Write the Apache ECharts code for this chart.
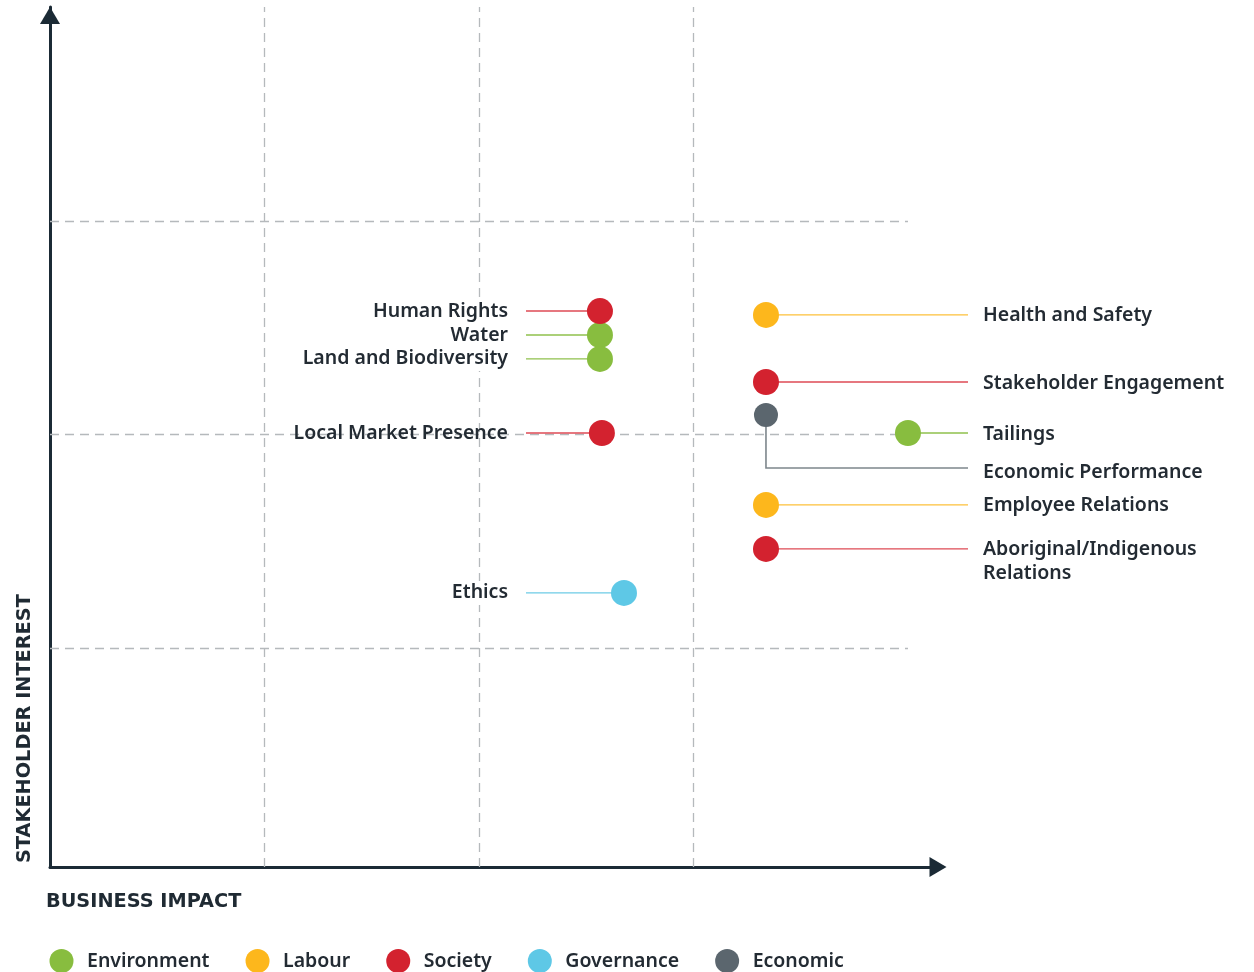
<!DOCTYPE html>
<html><head><meta charset="utf-8">
<script src="https://cdn.jsdelivr.net/npm/echarts@6/dist/echarts.min.js"></script>
<style>html,body{margin:0;padding:0;background:#fff}#c{width:1254px;height:972px}</style>
</head><body><div id="c"></div>
<script>
// ---------- data ----------
const categories = ['Environment', 'Labour', 'Society', 'Governance', 'Economic'];
const topics = ['Human Rights', 'Water', 'Land and Biodiversity', 'Local Market Presence', 'Ethics',
  'Health and Safety', 'Stakeholder Engagement', 'Economic Performance', 'Tailings',
  'Employee Relations', 'Aboriginal/Indigenous\nRelations'];
const topicCategory = ['Society', 'Environment', 'Environment', 'Society', 'Governance',
  'Labour', 'Society', 'Economic', 'Environment', 'Labour', 'Society'];
const businessImpact = [2.564, 2.564, 2.564, 2.573, 2.676, 3.338, 3.338, 3.338, 4.0, 3.338, 3.338];
const stakeholderInterest = [2.578, 2.466, 2.354, 2.007, 1.258, 2.560, 2.246, 2.091, 2.007, 1.670, 1.464];
const gridTicks = [1, 2, 3];
const gridExtent = 4;

// ---------- styles / layout ----------
const dotColors = ['#88bd3f', '#fdb71c', '#d3222f', '#5ec8e6', '#5b666e'];
const leaderColors = ['#8fc04c', '#fdc03a', '#de4a55', '#6ccbe6', '#7d868c'];
const textColor = '#232b33';
const axisColor = '#1b2a35';
const X_MIN = 0, X_MAX = 4.14, Y_MIN = -0.026, Y_MAX = 4.0023;
const LEFT_LEADER_PX = 526, LEFT_LABEL_PX = 508, RIGHT_LEADER_PX = 968, RIGHT_LABEL_PX = 983;
const elbowInterest = { 'Economic Performance': 1.843 };
const noBackground = { 'Local Market Presence': true };
const labelFont = { fontFamily: 'Noto Sans', fontSize: 19.5, fontWeight: 600 };

const measureCtx = document.createElement('canvas').getContext('2d');
function measure(s) {
  measureCtx.font = labelFont.fontWeight + ' ' + labelFont.fontSize + 'px "' + labelFont.fontFamily + '"';
  return measureCtx.measureText(s).width;
}

function renderLeader(params, api) {
  const i = api.value(2);
  const p = api.coord([api.value(0), api.value(1)]);
  const cat = categories.indexOf(topicCategory[i]);
  const color = leaderColors[cat];
  const name = topics[i];
  const children = [];
  const textStyleBase = Object.assign({ fill: textColor, lineHeight: 24 }, labelFont);
  if (businessImpact[i] < 3) {
    children.push({ type: 'line', shape: { x1: LEFT_LEADER_PX, y1: p[1], x2: p[0], y2: p[1] },
      style: { stroke: color, lineWidth: 1.4 } });
    if (!noBackground[name]) {
      const w = measure(name);
      children.push({ type: 'rect', shape: { x: LEFT_LABEL_PX - w - 2, y: p[1] - 12, width: w + 4, height: 24 },
        style: { fill: '#fff' } });
    }
    children.push({ type: 'text', x: LEFT_LABEL_PX, y: p[1],
      style: Object.assign({ text: name, align: 'right', verticalAlign: 'middle' }, textStyleBase) });
  } else {
    let ly = p[1];
    if (elbowInterest[name] != null) {
      ly = api.coord([0, elbowInterest[name]])[1];
      children.push({ type: 'polyline', shape: { points: [[p[0], p[1]], [p[0], ly], [RIGHT_LEADER_PX, ly]] },
        style: { stroke: color, lineWidth: 1.6, fill: null } });
      ly += 3;
    } else {
      children.push({ type: 'line', shape: { x1: p[0], y1: p[1], x2: RIGHT_LEADER_PX, y2: p[1] },
        style: { stroke: color, lineWidth: 1.4 } });
    }
    children.push({ type: 'text', x: RIGHT_LABEL_PX, y: ly - 11,
      style: Object.assign({ text: name, align: 'left', verticalAlign: 'top' }, textStyleBase) });
  }
  return { type: 'group', children: children };
}

const gridLineData = [];
gridTicks.forEach(v => gridLineData.push([{ coord: [v, Y_MIN] }, { coord: [v, Y_MAX] }]));
gridTicks.forEach(v => gridLineData.push([{ coord: [0, v] }, { coord: [gridExtent, v] }]));

const series = [
  {
    type: 'line', data: [], silent: true, z: 1,
    markLine: {
      silent: true, symbol: 'none', animation: false, label: { show: false }, z: 1,
      emphasis: { disabled: true },
      lineStyle: { type: [9, 6], color: '#b5b9bc', width: 1.3 },
      data: gridLineData
    }
  },
  {
    type: 'custom', name: 'leaders', z: 2, clip: false, silent: true,
    renderItem: renderLeader,
    encode: { x: 0, y: 1 },
    data: topics.map((t, i) => [businessImpact[i], stakeholderInterest[i], i])
  }
];
categories.forEach((c, ci) => {
  const data = [];
  topics.forEach((t, i) => { if (topicCategory[i] === c) data.push([businessImpact[i], stakeholderInterest[i], t]); });
  series.push({
    type: 'scatter', name: c, z: 3, symbol: 'circle',
    symbolSize: c === 'Economic' ? 24 : 26,
    itemStyle: { color: dotColors[ci], opacity: 1 },
    emphasis: { disabled: true },
    data: data
  });
});

const chart = echarts.init(document.getElementById('c'), null, { renderer: 'canvas' });
chart.setOption({
  animation: false,
  backgroundColor: '#fff',
  color: dotColors,
  grid: { left: 50, right: 316, top: 7, bottom: 105, containLabel: false },
  xAxis: {
    type: 'value', min: X_MIN, max: X_MAX,
    axisLine: { show: true, onZero: false, symbol: ['none', 'triangle'], symbolSize: [20, 17], symbolOffset: [0, 0],
      lineStyle: { color: axisColor, width: 3 } },
    axisTick: { show: false }, axisLabel: { show: false }, splitLine: { show: false }
  },
  yAxis: {
    type: 'value', min: Y_MIN, max: Y_MAX,
    axisLine: { show: true, onZero: false, symbol: ['none', 'triangle'], symbolSize: [20, 17], symbolOffset: [0, -8.5],
      lineStyle: { color: axisColor, width: 3 } },
    axisTick: { show: false }, axisLabel: { show: false }, splitLine: { show: false }
  },
  legend: {
    data: categories, icon: 'circle', left: 44.5, top: 944,
    itemWidth: 41, itemHeight: 24, itemGap: 36, selectedMode: false,
    textStyle: Object.assign({ color: textColor }, labelFont)
  },
  graphic: [
    { type: 'text', x: 46, y: 902, silent: true,
      style: { text: 'BUSINESS IMPACT', fill: '#1f2a33', fontFamily: 'DejaVu Sans', fontWeight: 'bold', fontSize: 19.3,
        align: 'left', verticalAlign: 'middle' } },
    { type: 'text', x: 25, y: 863, rotation: Math.PI / 2, silent: true,
      style: { text: 'STAKEHOLDER INTEREST', fill: '#1f2a33', fontFamily: 'DejaVu Sans', fontWeight: 'bold', fontSize: 19.3,
        align: 'left', verticalAlign: 'middle' } }
  ],
  series: series
});
</script></body></html>
